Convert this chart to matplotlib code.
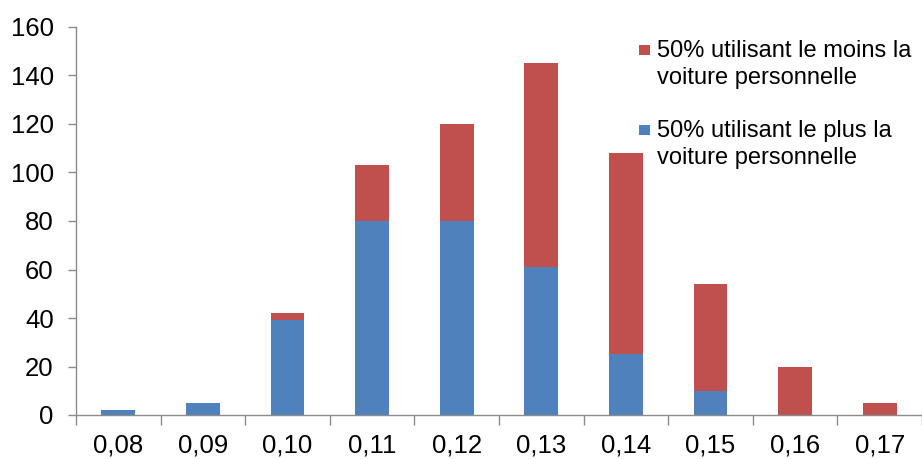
import numpy as np
import matplotlib.pyplot as plt
from matplotlib.patches import Rectangle
from matplotlib.container import BarContainer
from matplotlib.legend_handler import HandlerPatch

plt.rcParams["font.family"] = ["Liberation Sans", "DejaVu Sans"]

categories = ["0,08", "0,09", "0,10", "0,11", "0,12", "0,13", "0,14", "0,15", "0,16", "0,17"]
plus_voiture = [2, 5, 39, 80, 80, 61, 25, 10, 0, 0]
moins_voiture = [0, 0, 3, 23, 40, 84, 83, 44, 20, 5]

label_moins = "50% utilisant le moins la\nvoiture personnelle"
label_plus = "50% utilisant le plus la\nvoiture personnelle"

blue = "#4F81BD"
red = "#C0504D"
axis_grey = "#8C8C8C"


class TopSquareHandler(HandlerPatch):
    # small square aligned with the first line of a two-line label
    def create_artists(self, legend, orig_handle, xdescent, ydescent,
                       width, height, fontsize, trans):
        size = 0.44 * fontsize
        color = orig_handle.patches[0].get_facecolor()
        rect = Rectangle((-xdescent, -ydescent + height - size - 0.02 * fontsize),
                         size, size, facecolor=color, edgecolor="none",
                         transform=trans)
        return [rect]


fig = plt.figure(figsize=(9.22, 4.59), dpi=100)
ax = fig.add_axes([76 / 922, 1 - 415 / 459, 846 / 922, (415 - 27) / 459])

x = np.arange(len(categories))
ax.bar(x, plus_voiture, width=0.4, color=blue, label=label_plus, zorder=2)
ax.bar(x, moins_voiture, width=0.4, bottom=plus_voiture, color=red,
       label=label_moins, zorder=2)

ax.set_xlim(-0.5, len(categories) - 0.5)
ax.set_ylim(0, 160)
ax.set_yticks(np.arange(0, 161, 20))
ax.set_xticks(x)
ax.set_xticklabels(categories)
ax.set_xticks(np.arange(-0.5, len(categories), 1.0), minor=True)

ax.spines["top"].set_visible(False)
ax.spines["right"].set_visible(False)
for side in ("left", "bottom"):
    ax.spines[side].set_color(axis_grey)
    ax.spines[side].set_linewidth(1.0)

ax.tick_params(axis="y", which="major", labelsize=18.5, length=6, width=1.0,
               color=axis_grey, pad=10)
ax.tick_params(axis="x", which="major", labelsize=18.5, length=0, pad=13)
ax.tick_params(axis="x", which="minor", length=7, width=1.0, color=axis_grey)

handles, labels = ax.get_legend_handles_labels()
leg = ax.legend(
    handles[::-1], labels[::-1],
    loc="upper left",
    bbox_to_anchor=(554 / 846, 0.99),
    frameon=False,
    fontsize=17,
    handlelength=0.44,
    handleheight=2.4,
    handletextpad=0.3,
    labelspacing=1.35,
    borderaxespad=0.0,
    handler_map={BarContainer: TopSquareHandler()},
)
for t in leg.get_texts():
    t.set_linespacing(1.25)

fig.savefig("out.png", dpi=100, facecolor="white")
